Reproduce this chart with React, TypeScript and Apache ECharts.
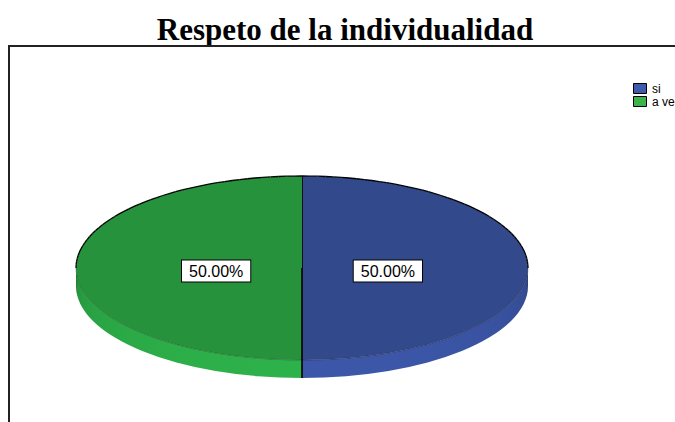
import React, { useEffect, useRef } from "react";
import * as echarts from "echarts";

const TITLE = "Respeto de la individualidad";
const categories = ["si", "a veces"];
const values = [50, 50];
const topColors = ["#324a8b", "#27923c"];
const sideLight = ["#3c57a9", "#2db14a"];
const sideDark = ["#2c3f7a", "#1f7d33"];
const legendColors = ["#3f59ad", "#3cb44b"];

const CX = 302, CY = 268, RX = 226, RY = 92, DEPTH = 18;

function hexToRgb(h: string) {
  const n = parseInt(h.slice(1), 16);
  return [(n >> 16) & 255, (n >> 8) & 255, n & 255];
}
function mix(a: string, b: string, t: number) {
  const A = hexToRgb(a), B = hexToRgb(b);
  const c = A.map((v, i) => Math.round(v + (B[i] - v) * t));
  return `rgb(${c[0]},${c[1]},${c[2]})`;
}

export default function App() {
  const ref = useRef<HTMLDivElement>(null);
  useEffect(() => {
    if (!ref.current) return;
    const chart = echarts.init(ref.current, undefined, { renderer: "svg" });
    const total = values.reduce((a, b) => a + b, 0);
    const starts: number[] = [];
    let acc = -90;
    values.forEach((v) => {
      starts.push(acc);
      acc += (v / total) * 360;
    });
    const rad = (d: number) => (d * Math.PI) / 180;
    const pt = (d: number, dy = 0) => [CX + RX * Math.cos(rad(d)), CY + RY * Math.sin(rad(d)) + dy];

    const renderItem = (params: any, api: any) => {
      const i = params.dataIndex;
      const v = api.value(0);
      const a1 = starts[i];
      const a2 = a1 + (v / total) * 360;
      const children: any[] = [];
      [[0, 180], [360, 540], [-360, -180]].forEach(([f1, f2]) => {
        const s1 = Math.max(a1, f1), s2 = Math.min(a2, f2);
        if (s2 - s1 <= 0.01) return;
        const p1 = pt(s1), p2 = pt(s2), p3 = pt(s2, DEPTH), p4 = pt(s1, DEPTH);
        const large = s2 - s1 > 180 ? 1 : 0;
        const d = `M${p1[0]},${p1[1]} A${RX},${RY} 0 ${large} 1 ${p2[0]},${p2[1]} L${p3[0]},${p3[1]} A${RX},${RY} 0 ${large} 0 ${p4[0]},${p4[1]} Z`;
        const xs: number[] = [];
        const N = 12;
        for (let k = 0; k <= N; k++) xs.push(pt(s1 + ((s2 - s1) * k) / N)[0]);
        const minX = Math.min(...xs), maxX = Math.max(...xs);
        const stops = xs.map((x, k) => {
          const th = s1 + ((s2 - s1) * k) / N;
          const t = Math.pow(Math.max(0, Math.sin(rad(th))), 0.35);
          return { offset: maxX > minX ? (x - minX) / (maxX - minX) : 0, color: mix(sideDark[i], sideLight[i], t) };
        }).sort((a, b) => a.offset - b.offset);
        children.push({
          type: "path",
          shape: { pathData: d },
          style: { fill: new echarts.graphic.LinearGradient(0, 0, 1, 0, stops), stroke: null },
        });
      });
      const q1 = pt(a1), q2 = pt(a2);
      const largeTop = a2 - a1 > 180 ? 1 : 0;
      children.push({
        type: "path",
        shape: { pathData: `M${CX},${CY} L${q1[0]},${q1[1]} A${RX},${RY} 0 ${largeTop} 1 ${q2[0]},${q2[1]} Z` },
        style: { fill: topColors[i], stroke: null },
      });
      const step = 2;
      for (let t = a1; t < a2; t += step) {
        const t2 = Math.min(a2, t + step);
        const m = ((((t + t2) / 2) % 360) + 360) % 360;
        const back = m > 180;
        const p = pt(t), p2 = pt(t2);
        children.push({
          type: "line",
          shape: { x1: p[0], y1: p[1], x2: p2[0], y2: p2[1] },
          style: { stroke: back ? "#000" : "rgba(0,0,0,0.35)", lineWidth: back ? 1.3 : 0.8 },
        });
      }
      children.push({
        type: "line",
        shape: { x1: CX, y1: CY, x2: q1[0], y2: q1[1] },
        style: { stroke: "#000", lineWidth: 1.6 },
      });
      const na = ((a1 % 360) + 360) % 360;
      if (na > 0 && na < 180) {
        children.push({
          type: "line",
          shape: { x1: q1[0], y1: q1[1], x2: q1[0], y2: q1[1] + DEPTH },
          style: { stroke: "#000", lineWidth: 1.6 },
        });
      }
      const mid = (a1 + a2) / 2;
      const lx = CX + RX * 0.38 * Math.cos(rad(mid));
      const ly = CY + RY * 0.38 * Math.sin(rad(mid)) + 3;
      children.push({
        type: "text",
        x: lx,
        y: ly,
        z2: 10,
        style: {
          text: ((v / total) * 100).toFixed(2) + "%",
          fontFamily: "Liberation Sans, Arial, sans-serif",
          fontSize: 16,
          fill: "#000",
          align: "center",
          verticalAlign: "middle",
          backgroundColor: "#fff",
          borderColor: "#000",
          borderWidth: 1,
          padding: [3, 7, 2, 7],
        },
      });
      return { type: "group", children };
    };

    const legendGraphics: any[] = [];
    categories.forEach((c, i) => {
      legendGraphics.push({
        type: "rect",
        shape: { x: 633.5, y: 83.5 + i * 13, width: 13, height: 10 },
        style: { fill: legendColors[i], stroke: "#000", lineWidth: 1 },
      });
      legendGraphics.push({
        type: "text",
        x: 652,
        y: 89 + i * 13,
        style: {
          text: c,
          fontFamily: "Liberation Sans, Arial, sans-serif",
          fontSize: 12,
          fill: "#000",
          verticalAlign: "middle",
        },
      });
    });

    chart.setOption({
      animation: false,
      backgroundColor: "#fff",
      graphic: [
        {
          type: "text",
          x: 345,
          y: 29,
          style: {
            text: TITLE,
            fontFamily: "Liberation Serif, Times New Roman, serif",
            fontWeight: "bold",
            fontSize: 31,
            fill: "#000",
            align: "center",
            verticalAlign: "middle",
          },
        },
        { type: "line", shape: { x1: 9, y1: 46, x2: 675, y2: 46 }, style: { stroke: "#222", lineWidth: 2 } },
        { type: "line", shape: { x1: 9, y1: 45, x2: 9, y2: 422 }, style: { stroke: "#222", lineWidth: 2 } },
        ...legendGraphics,
      ],
      series: [
        {
          type: "custom",
          coordinateSystem: "none",
          renderItem,
          data: values.map((v, i) => ({ name: categories[i], value: [v] })),
        },
      ],
    });
    return () => chart.dispose();
  }, []);
  return (
    <div
      ref={ref}
      style={{ position: "fixed", left: 0, top: 0, width: 675, height: 422 }}
    />
  );
}
